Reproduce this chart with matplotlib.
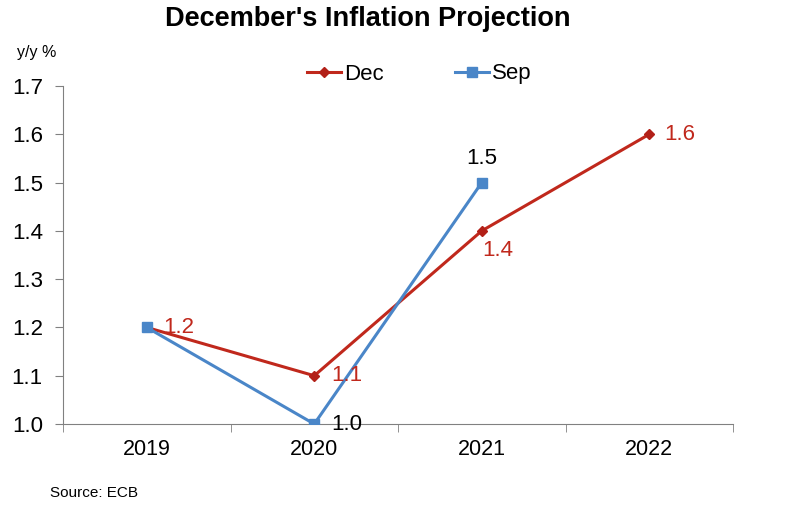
import numpy as np
import matplotlib.pyplot as plt

plt.rcParams['font.family'] = ['Liberation Sans', 'DejaVu Sans']

years = ['2019', '2020', '2021', '2022']
dec_vals = [1.2, 1.1, 1.4, 1.6]
sep_vals = [1.2, 1.0, 1.5]

dec_color = '#C0281C'
sep_color = '#4A86C8'

fig = plt.figure(figsize=(7.9, 5.22), dpi=100)
ax = fig.add_axes([63 / 790, 1 - 424 / 522, 670 / 790, 338 / 522])

x = np.arange(len(years))
ax.plot(x, dec_vals, color=dec_color, lw=2.2, marker='D', ms=5.5,
        mfc='#B22018', mec='#B22018', label='Dec', zorder=2)
ax.plot(x[:len(sep_vals)], sep_vals, color=sep_color, lw=2.2, marker='s', ms=7,
        mfc=sep_color, mec=sep_color, label='Sep', zorder=3)

ax.set_xlim(-0.5, len(years) - 0.5)
ax.set_ylim(1.0, 1.7)
yt = np.arange(1.0, 1.71, 0.1)
ax.set_yticks(yt)
ax.set_yticklabels(['%.1f' % v for v in yt], fontsize=16)
ax.set_xticks(x)
ax.set_xticklabels(years, fontsize=15.5)
ax.tick_params(axis='x', length=0, pad=11)
ax.set_xticks(np.arange(-0.5, len(years)), minor=True)
ax.tick_params(axis='x', which='minor', length=6, color='#808080', direction='out')
ax.tick_params(axis='y', length=6, color='#808080', direction='out', pad=8.5)

for s in ['top', 'right']:
    ax.spines[s].set_visible(False)
ax.spines['left'].set_color('#808080')
ax.spines['bottom'].set_color('#808080')

# data labels
dec_offsets = [(12, 0, 'left'), (12, 0, 'left'), (0, -14, 'left'), (11, 0, 'left')]
for i, v in enumerate(dec_vals):
    dx, dy, ha = dec_offsets[i]
    ax.annotate('%.1f' % v, (x[i], v), xytext=(dx, dy), textcoords='offset points',
                ha=ha, va='center', fontsize=16, color=dec_color, zorder=4)
sep_offsets = [None, (12, 0, 'left'), (0, 17, 'center')]
for i, v in enumerate(sep_vals):
    if sep_offsets[i] is None:
        continue
    dx, dy, ha = sep_offsets[i]
    ax.annotate('%.1f' % v, (x[i], v), xytext=(dx, dy), textcoords='offset points',
                ha=ha, va='center', fontsize=16, color='black', zorder=4,
                annotation_clip=False)

ax.legend(loc='center left', bbox_to_anchor=(307 / 790, 1 - 74 / 522),
          bbox_transform=fig.transFigure, ncol=2, frameon=False, fontsize=16,
          borderpad=0, borderaxespad=0, handlelength=1.53, handletextpad=0.14,
          columnspacing=3.2)

fig.text(368 / 790, 1 - 19 / 522, "December's Inflation Projection", ha='center',
         va='center', fontsize=19.5, fontweight='bold')
fig.text(17 / 790, 1 - 53 / 522, 'y/y %', ha='left', va='center', fontsize=11.5)
fig.text(50 / 790, 1 - 493 / 522, 'Source: ECB', ha='left', va='center', fontsize=11)

fig.savefig('out.png', dpi=100)
